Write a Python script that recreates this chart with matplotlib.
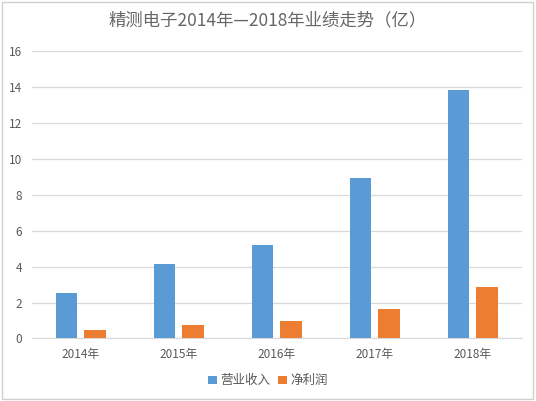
import matplotlib
matplotlib.use("Agg")
import matplotlib.pyplot as plt
import matplotlib.patches as mpatches
import numpy as np

plt.rcParams['font.family'] = ['Noto Sans CJK SC', 'DejaVu Sans']

# ---- Data (亿元) ----
years = ["2014年", "2015年", "2016年", "2017年", "2018年"]
revenue = [2.52, 4.13, 5.21, 8.93, 13.83]
net_profit = [0.45, 0.74, 0.97, 1.63, 2.86]

blue = "#5B9BD5"
orange = "#ED7D31"
text_gray = "#595959"

fig = plt.figure(figsize=(5.36, 4.01), dpi=100)
ax = fig.add_axes([0.059, 0.156, 0.914, 0.716])

x = np.arange(len(years))
w = 0.22
ax.bar(x - 0.145, revenue, width=w, color=blue, label="营业收入", zorder=3)
ax.bar(x + 0.145, net_profit, width=w, color=orange, label="净利润", zorder=3)

ax.set_xlim(-0.5, len(years) - 0.5)
ax.set_ylim(0, 16)
ax.set_yticks(range(0, 17, 2))
ax.set_xticks(x)
ax.set_xticklabels(years)
ax.grid(axis="y", color="#D9D9D9", lw=0.9, zorder=0)
for s in ["top", "right", "left"]:
    ax.spines[s].set_visible(False)
ax.spines["bottom"].set_color("#D9D9D9")
ax.tick_params(axis="y", length=0, labelsize=8.5, colors=text_gray, pad=7)
ax.tick_params(axis="x", length=0, labelsize=8.5, colors=text_gray, pad=7)

fig.text(0.5, 0.95, "精测电子2014年—2018年业绩走势（亿）",
         ha="center", va="center", fontsize=12.5, color="#666666")

fig.legend(loc="center", bbox_to_anchor=(0.5, 0.05), ncol=2, frameon=False,
           fontsize=9, handlelength=0.7, handleheight=0.7, handletextpad=0.3,
           columnspacing=0.6, labelcolor=text_gray)

# light frame round the picture
fig.patches.append(mpatches.Rectangle((0.003, 0.004), 0.992, 0.99, transform=fig.transFigure,
                                      fill=False, edgecolor="#D0D0D0", lw=1))

fig.savefig("out.png", dpi=100)
plt.close(fig)
